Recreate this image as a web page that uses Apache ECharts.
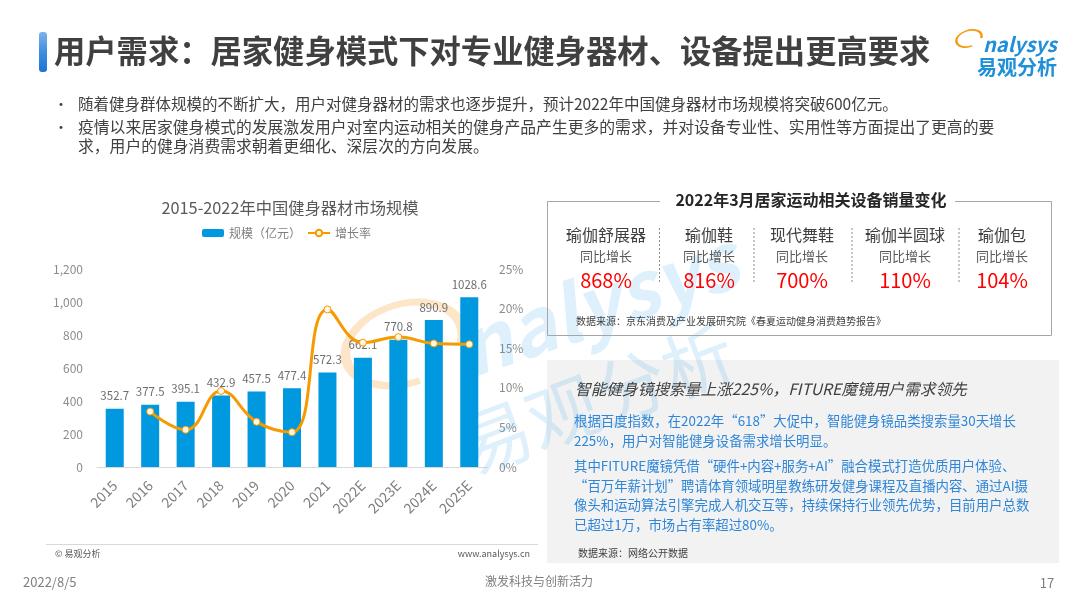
<!DOCTYPE html>
<html>
<head>
<meta charset="utf-8">
<title>用户需求</title>
<script src="https://cdn.jsdelivr.net/npm/echarts@6/dist/echarts.min.js"></script>
<style>
    html, body { margin: 0; padding: 0; background: #fff; }
    #chart { width: 1080px; height: 608px; }
</style>
</head>
<body>
<div id="chart"></div>
<script>
// 图表数据
const years = ['2015', '2016', '2017', '2018', '2019', '2020', '2021', '2022E', '2023E', '2024E', '2025E'];
const marketSize = [352.7, 377.5, 395.1, 432.9, 457.5, 477.4, 572.3, 662.1, 770.8, 890.9, 1028.6];
const growthRate = [null, 7.0, 4.7, 9.6, 5.7, 4.4, 19.9, 15.7, 16.4, 15.6, 15.5];

// 设备销量变化
const deviceNames = ['瑜伽舒展器', '瑜伽鞋', '现代舞鞋', '瑜伽半圆球', '瑜伽包'];
const deviceGrowth = ['868%', '816%', '700%', '110%', '104%'];
const deviceCenters = [606, 709, 802, 905, 1002];
const deviceDividers = [659.5, 754, 852, 959];

// 页面文字
const bulletLines = [
    '随着健身群体规模的不断扩大，用户对健身器材的需求也逐步提升，预计2022年中国健身器材市场规模将突破600亿元。',
    '疫情以来居家健身模式的发展激发用户对室内运动相关的健身产品产生更多的需求，并对设备专业性、实用性等方面提出了更高的要',
    '求，用户的健身消费需求朝着更细化、深层次的方向发展。'
];
const mirrorLines = [
    '根据百度指数，在2022年“618”大促中，智能健身镜品类搜索量30天增长',
    '225%，用户对智能健身设备需求增长明显。',
    '其中FITURE魔镜凭借“硬件+内容+服务+AI”融合模式打造优质用户体验、',
    '“百万年薪计划”聘请体育领域明星教练研发健身课程及直播内容、通过AI摄',
    '像头和运动算法引擎完成人机交互等，持续保持行业领先优势，目前用户总数',
    '已超过1万，市场占有率超过80%。'
];
const mirrorLineY = [421, 441, 466, 486, 505, 525];

const FONT = '"Noto Sans CJK SC", "Noto Sans", sans-serif';

// 生成一段文字
function txt(text, x, y, size, color, opts) {
    opts = opts || {};
    return {
        type: 'text',
        x: x,
        y: y,
        rotation: opts.rotation || 0,
        z: opts.z || 10,
        silent: true,
        style: {
            text: text,
            fill: color,
            opacity: opts.opacity === undefined ? 1 : opts.opacity,
            font: (opts.italic ? 'italic ' : '') + (opts.bold ? 'bold ' : '') + size + 'px ' + FONT,
            align: opts.align || 'left',
            verticalAlign: 'middle'
        }
    };
}

function buildGraphic() {
    let items = [];

    // 标题
    items.push({
        type: 'rect', z: 10, silent: true,
        shape: { x: 39, y: 32, width: 8, height: 40, r: 3 },
        style: {
            fill: {
                type: 'linear', x: 0, y: 0, x2: 0, y2: 1,
                colorStops: [{ offset: 0, color: '#7fb2e8' }, { offset: 0.5, color: '#3f8ee0' }, { offset: 1, color: '#1f72d6' }]
            }
        }
    });
    items.push(txt('用户需求：居家健身模式下对专业健身器材、设备提出更高要求', 54, 51, 31.3, '#404040', { bold: true }));

    // logo
    items.push({
        type: 'arc', z: 10, silent: true, x: 969, y: 38.5, scaleY: 0.62, rotation: 0.3,
        shape: { cx: 0, cy: 0, r: 13, startAngle: 1.5, endAngle: 6.7 },
        style: { fill: 'none', stroke: '#f39c12', lineWidth: 2.5 }
    });
    items.push(txt('nalysys', 983, 44, 20, '#1e8fd8', { italic: true, bold: true }));
    items.push(txt('易观分析', 977, 67, 20, '#1e8fd8', { bold: true }));

    // 要点
    items.push(txt('•', 54, 104, 14, '#404040'));
    items.push(txt('•', 54, 127, 14, '#404040'));
    items.push(txt(bulletLines[0], 78, 104, 15.5, '#404040'));
    items.push(txt(bulletLines[1], 78, 127, 15.8, '#404040'));
    items.push(txt(bulletLines[2], 78, 146, 15.8, '#404040'));

    // 图表脚注
    items.push({
        type: 'line', z: 10, silent: true,
        shape: { x1: 46, y1: 544.5, x2: 538, y2: 544.5 },
        style: { stroke: '#d9d9d9', lineWidth: 1 }
    });
    items.push(txt('© 易观分析', 55, 554, 9, '#595959'));
    items.push(txt('www.analysys.cn', 530, 554, 9, '#595959', { align: 'right' }));

    // 右上方框
    items.push({
        type: 'rect', z: 10, silent: true,
        shape: { x: 547.5, y: 201.5, width: 504, height: 134 },
        style: { fill: 'none', stroke: '#a6a6a6', lineWidth: 1 }
    });
    items.push({
        type: 'rect', z: 11, silent: true,
        shape: { x: 660, y: 192, width: 295, height: 18 },
        style: { fill: '#fff' }
    });
    items.push(txt('2022年3月居家运动相关设备销量变化', 811, 200, 16, '#262626', { bold: true, align: 'center', z: 12 }));
    deviceNames.forEach(function (name, i) {
        items.push(txt(name, deviceCenters[i], 235, 16, '#404040', { align: 'center' }));
        items.push(txt('同比增长', deviceCenters[i], 256, 13, '#595959', { align: 'center' }));
        items.push(txt(deviceGrowth[i], deviceCenters[i], 280, 20, '#ff0000', { align: 'center' }));
    });
    deviceDividers.forEach(function (x) {
        items.push({
            type: 'line', z: 10, silent: true,
            shape: { x1: x, y1: 228, x2: x, y2: 284 },
            style: { stroke: '#8c8c8c', lineWidth: 1, lineDash: [2, 2] }
        });
    });
    items.push(txt('数据来源：京东消费及产业发展研究院《春夏运动健身消费趋势报告》', 576, 321, 10, '#404040'));

    // 右下灰色区域
    items.push({
        type: 'rect', z: 0, silent: true,
        shape: { x: 547, y: 360, width: 512, height: 203 },
        style: { fill: '#f2f2f2' }
    });
    items.push(txt('智能健身镜搜索量上涨225%，FITURE魔镜用户需求领先', 575, 389, 15.7, '#404040', { italic: true }));
    mirrorLines.forEach(function (line, i) {
        items.push(txt(line, 574, mirrorLineY[i], 13.4, '#2f86d8'));
    });
    items.push(txt('数据来源：网络公开数据', 578, 553, 10, '#404040'));

    // 页脚
    items.push(txt('2022/8/5', 23, 582, 13, '#7f7f7f'));
    items.push(txt('激发科技与创新活力', 539, 581, 12, '#7f7f7f', { align: 'center' }));
    items.push(txt('17', 1047, 583, 13, '#7f7f7f', { align: 'center' }));

    // 水印,压在柱子和线的下面
    items.push({
        type: 'arc', z: 1, silent: true, x: 404, y: 344, scaleY: 0.66, rotation: 0.3,
        shape: { cx: 0, cy: 0, r: 60, startAngle: 1.5, endAngle: 6.7 },
        style: { fill: 'none', stroke: '#f7a035', lineWidth: 10, opacity: 0.28 }
    });
    items.push(txt('nalysys', 462, 350, 78, '#2aa3e6', { italic: true, bold: true, rotation: 0.33, opacity: 0.16, z: 1 }));
    items.push(txt('易观分析', 462, 450, 72, '#2aa3e6', { rotation: 0.36, opacity: 0.16, z: 1 }));

    return items;
}

let myChart = echarts.init(document.getElementById('chart'));
myChart.setOption({
    animation: false,
    backgroundColor: '#fff',
    textStyle: { fontFamily: FONT },
    title: {
        text: '2015-2022年中国健身器材市场规模',
        left: 285,
        top: 195,
        textAlign: 'center',
        textStyle: { fontSize: 16.3, fontWeight: 'normal', color: '#595959', fontFamily: FONT }
    },
    legend: {
        top: 222,
        left: 197,
        itemGap: 6,
        itemWidth: 22,
        itemHeight: 8,
        textStyle: { fontSize: 12, color: '#7f7f7f', fontFamily: FONT },
        data: ['规模（亿元）', '增长率']
    },
    grid: { left: 97, right: 593, top: 269, bottom: 141 },
    xAxis: {
        type: 'category',
        data: years,
        axisLine: { lineStyle: { color: '#d9d9d9' } },
        axisTick: { show: false },
        axisLabel: { rotate: 45, fontSize: 14, color: '#7f7f7f', margin: 16, interval: 0, fontFamily: FONT }
    },
    yAxis: [{
        type: 'value',
        min: 0,
        max: 1200,
        interval: 200,
        axisLine: { show: false },
        axisTick: { show: false },
        splitLine: { show: false },
        axisLabel: {
            fontSize: 12, color: '#8c8c8c', margin: 14, fontFamily: FONT,
            formatter: function (v) { return v.toLocaleString('en-US'); }
        }
    }, {
        type: 'value',
        min: 0,
        max: 25,
        interval: 5,
        position: 'right',
        axisLine: { show: false },
        axisTick: { show: false },
        splitLine: { show: false },
        axisLabel: { fontSize: 12, color: '#8c8c8c', margin: 12, formatter: '{value}%', fontFamily: FONT }
    }],
    series: [{
        name: '规模（亿元）',
        type: 'bar',
        data: marketSize,
        barWidth: 18,
        itemStyle: { color: '#0098df' },
        label: { show: true, position: 'top', distance: 7, fontSize: 11.5, color: '#6e6e6e', fontFamily: FONT }
    }, {
        name: '增长率',
        type: 'line',
        yAxisIndex: 1,
        data: growthRate,
        smooth: 0.45,
        symbol: 'circle',
        symbolSize: 7,
        lineStyle: { color: '#f59b00', width: 3 },
        itemStyle: { color: '#fff6e6', borderColor: '#f59b00', borderWidth: 1 }
    }],
    graphic: { elements: buildGraphic() }
});
</script>
</body>
</html>
